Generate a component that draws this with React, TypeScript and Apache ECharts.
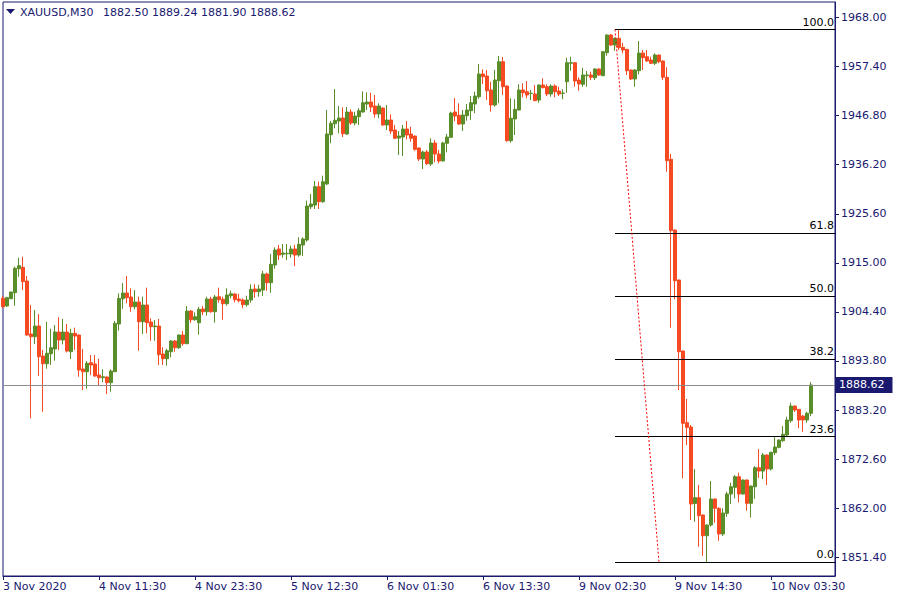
import React, { useEffect, useRef } from "react";
import * as echarts from "echarts";

const symbolName = "XAUUSD,M30";
const tickLabels = ["3 Nov 2020", "4 Nov 11:30", "4 Nov 23:30", "5 Nov 12:30", "6 Nov 01:30", "6 Nov 13:30", "9 Nov 02:30", "9 Nov 14:30", "10 Nov 03:30"];
const barsPerLabel = 24;
const slotCount = 209; // 203 bars plus the empty chart-shift area
const yTicks = [1851.4, 1862.0, 1872.6, 1883.2, 1893.8, 1904.4, 1915.0, 1925.6, 1936.2, 1946.8, 1957.4, 1968.0];
const yMin = 1847.36;
const yMax = 1971.34;
const fibLevels = [0, 23.6, 38.2, 50.0, 61.8, 100.0];
const fibHigh = 1965.40;
const fibLow = 1850.32;
const fibStartBar = 153;
const fibEndBar = 164;

const open = [
  1907.33, 1905.67, 1907.25, 1908.55, 1913.73, 1914.03, 1911.07, 1899.63, 1899.04, 1901.35,
  1894.87, 1893.21, 1895.37, 1896.39, 1900.06, 1898.33, 1900.06, 1895.80, 1899.78, 1899.41,
  1892.07, 1891.48, 1893.43, 1893.15, 1890.77, 1890.19, 1890.34, 1889.11, 1891.48, 1901.79,
  1907.25, 1908.48, 1907.62, 1905.52, 1906.54, 1902.28, 1905.89, 1902.22, 1901.20, 1901.35,
  1895.31, 1894.29, 1895.80, 1898.11, 1896.67, 1899.41, 1897.53, 1904.59, 1902.71, 1902.07,
  1905.03, 1904.44, 1907.19, 1904.44, 1907.68, 1907.12, 1906.17, 1907.90, 1908.27, 1907.19,
  1906.97, 1905.96, 1906.97, 1909.35, 1908.76, 1909.13, 1912.59, 1910.71, 1914.53, 1917.99,
  1916.84, 1916.97, 1916.90, 1917.99, 1916.69, 1918.85, 1919.93, 1927.12, 1927.49, 1931.45,
  1928.20, 1932.03, 1942.68, 1945.05, 1945.63, 1946.28, 1942.83, 1947.58, 1945.20, 1946.56,
  1947.58, 1949.31, 1949.74, 1948.87, 1947.15, 1948.44, 1944.77, 1945.85, 1943.69, 1941.96,
  1942.18, 1943.91, 1942.83, 1942.39, 1939.80, 1937.43, 1938.94, 1936.35, 1940.88, 1938.51,
  1937.00, 1940.82, 1942.11, 1947.58, 1946.86, 1944.99, 1946.78, 1947.86, 1949.31, 1950.88,
  1955.79, 1955.35, 1952.33, 1949.09, 1954.34, 1958.44, 1953.19, 1941.38, 1946.07, 1948.01,
  1952.33, 1951.96, 1951.57, 1951.47, 1950.17, 1953.41, 1953.04, 1951.47, 1953.19, 1952.11,
  1951.62, 1954.12, 1958.10, 1958.23, 1954.49, 1953.56, 1955.42, 1955.57, 1954.99, 1956.87,
  1955.42, 1960.39, 1964.21, 1962.05, 1963.50, 1961.55, 1961.12, 1956.65, 1954.71, 1956.50,
  1960.32, 1959.52, 1958.81, 1958.10, 1959.89, 1958.59, 1955.07, 1937.36, 1922.09, 1911.29,
  1895.95, 1880.47, 1879.54, 1863.01, 1864.27, 1860.53, 1856.06, 1858.37, 1863.99, 1861.98,
  1856.43, 1860.90, 1865.07, 1866.51, 1868.80, 1865.07, 1868.09, 1863.06, 1866.64, 1870.75,
  1870.03, 1873.49, 1870.47, 1873.99, 1875.15, 1876.58, 1877.81, 1880.90, 1884.07, 1883.36,
  1881.91, 1881.05, 1882.50
];
const high = [
  1907.84, 1907.68, 1908.75, 1914.16, 1916.11, 1916.32, 1912.15, 1905.89, 1904.81, 1903.95,
  1896.17, 1902.28, 1900.77, 1901.57, 1903.23, 1902.87, 1901.79, 1900.77, 1900.99, 1899.52,
  1896.39, 1893.79, 1895.09, 1895.09, 1894.29, 1892.00, 1890.45, 1892.00, 1902.43, 1908.42,
  1910.64, 1912.15, 1909.50, 1909.13, 1907.68, 1907.68, 1909.63, 1903.02, 1902.65, 1902.87,
  1896.75, 1896.45, 1898.33, 1898.33, 1899.52, 1900.27, 1905.67, 1904.81, 1904.31, 1905.52,
  1905.67, 1907.68, 1907.68, 1908.05, 1909.63, 1907.68, 1909.50, 1908.98, 1908.42, 1908.33,
  1907.33, 1907.90, 1910.36, 1910.36, 1910.27, 1913.30, 1912.87, 1916.90, 1918.35, 1918.85,
  1919.07, 1919.07, 1918.70, 1918.85, 1920.51, 1920.51, 1928.42, 1929.87, 1932.67, 1932.52,
  1933.82, 1948.01, 1945.63, 1952.55, 1948.87, 1948.59, 1948.66, 1948.16, 1947.64, 1948.38,
  1952.05, 1951.83, 1951.75, 1951.25, 1949.46, 1948.55, 1949.09, 1947.08, 1944.77, 1943.47,
  1944.77, 1945.63, 1944.40, 1942.50, 1939.95, 1939.22, 1939.37, 1941.90, 1941.53, 1939.37,
  1941.16, 1942.83, 1947.64, 1950.60, 1949.46, 1948.01, 1949.31, 1951.03, 1951.96, 1957.95,
  1956.80, 1956.65, 1954.12, 1956.65, 1959.67, 1959.46, 1953.30, 1950.54, 1950.32, 1953.56,
  1953.78, 1954.27, 1952.33, 1953.41, 1953.52, 1954.86, 1953.56, 1953.56, 1953.56, 1953.04,
  1952.48, 1959.31, 1959.52, 1958.31, 1955.07, 1957.15, 1956.43, 1956.28, 1956.97, 1956.97,
  1960.75, 1964.36, 1964.43, 1963.71, 1965.40, 1962.55, 1961.19, 1956.76, 1956.87, 1962.91,
  1960.97, 1960.97, 1959.52, 1960.26, 1960.00, 1958.70, 1957.23, 1938.51, 1922.20, 1911.40,
  1896.06, 1885.59, 1879.97, 1870.47, 1867.01, 1860.64, 1858.48, 1867.87, 1864.09, 1862.19,
  1861.98, 1865.56, 1867.51, 1869.17, 1869.67, 1868.20, 1868.20, 1866.90, 1871.11, 1874.79,
  1873.92, 1873.60, 1874.20, 1877.59, 1876.84, 1879.75, 1881.76, 1884.79, 1884.18, 1883.43,
  1882.13, 1882.84, 1889.24
];
const low = [
  1905.24, 1905.52, 1907.19, 1905.74, 1912.00, 1909.13, 1899.30, 1881.42, 1897.47, 1890.55,
  1882.84, 1892.13, 1892.93, 1893.86, 1896.17, 1897.40, 1895.67, 1894.23, 1896.17, 1890.40,
  1887.53, 1887.81, 1890.77, 1890.40, 1888.61, 1889.19, 1886.67, 1887.16, 1891.42, 1900.34,
  1905.09, 1906.26, 1904.44, 1904.96, 1896.02, 1899.63, 1899.78, 1898.18, 1898.18, 1892.93,
  1892.93, 1892.78, 1894.59, 1895.80, 1896.39, 1897.10, 1897.47, 1902.00, 1902.50, 1899.48,
  1903.73, 1903.58, 1904.23, 1902.07, 1906.39, 1902.71, 1905.74, 1907.33, 1906.47, 1906.47,
  1905.18, 1905.52, 1906.39, 1907.47, 1907.68, 1907.83, 1908.98, 1908.55, 1913.73, 1915.61,
  1916.11, 1915.61, 1916.11, 1914.31, 1916.32, 1916.47, 1919.56, 1926.63, 1926.63, 1926.63,
  1927.99, 1931.81, 1940.82, 1944.06, 1942.98, 1942.18, 1942.61, 1944.77, 1944.70, 1944.77,
  1947.43, 1948.01, 1947.58, 1946.35, 1946.22, 1944.62, 1943.69, 1942.83, 1941.75, 1938.29,
  1938.07, 1941.68, 1941.16, 1939.22, 1937.00, 1935.27, 1936.13, 1935.91, 1936.71, 1936.50,
  1936.93, 1938.87, 1941.96, 1945.57, 1944.77, 1943.47, 1945.70, 1945.85, 1947.30, 1950.45,
  1953.63, 1950.17, 1947.64, 1948.72, 1949.46, 1951.25, 1941.16, 1940.95, 1942.61, 1947.90,
  1950.75, 1950.54, 1950.17, 1949.95, 1949.59, 1952.70, 1951.03, 1950.88, 1950.75, 1951.03,
  1950.32, 1951.75, 1956.50, 1953.04, 1952.18, 1953.04, 1953.04, 1954.49, 1954.49, 1955.35,
  1955.35, 1959.74, 1961.83, 1960.82, 1960.97, 1960.26, 1955.57, 1954.49, 1953.04, 1955.72,
  1956.65, 1958.44, 1957.95, 1957.73, 1958.10, 1954.49, 1934.68, 1900.99, 1907.12, 1887.53,
  1868.46, 1875.65, 1859.45, 1859.08, 1853.68, 1851.74, 1850.32, 1858.04, 1858.87, 1854.98,
  1856.00, 1860.16, 1862.91, 1864.14, 1863.27, 1864.96, 1861.46, 1859.99, 1864.03, 1868.52,
  1868.31, 1867.01, 1870.14, 1873.49, 1874.94, 1876.36, 1877.59, 1880.47, 1882.78, 1879.26,
  1878.52, 1880.47, 1881.90
];
const close = [
  1905.52, 1907.47, 1908.70, 1913.82, 1914.38, 1910.92, 1899.41, 1899.04, 1901.35, 1894.72,
  1893.21, 1895.46, 1896.67, 1900.06, 1898.33, 1900.06, 1895.95, 1899.78, 1899.19, 1891.85,
  1891.48, 1893.30, 1892.93, 1890.55, 1890.19, 1890.40, 1889.11, 1891.63, 1901.94, 1907.33,
  1908.48, 1907.47, 1905.52, 1906.54, 1902.28, 1905.89, 1902.07, 1901.20, 1901.35, 1895.16,
  1894.29, 1896.02, 1898.11, 1896.67, 1899.41, 1897.53, 1904.59, 1902.71, 1903.36, 1904.96,
  1904.44, 1907.19, 1904.44, 1907.62, 1907.04, 1906.17, 1908.05, 1908.33, 1907.04, 1906.82,
  1905.96, 1906.97, 1909.28, 1908.76, 1909.35, 1912.59, 1910.71, 1914.68, 1917.77, 1916.69,
  1917.12, 1917.06, 1917.99, 1916.69, 1918.99, 1920.15, 1927.27, 1927.71, 1931.45, 1928.20,
  1932.52, 1942.83, 1945.14, 1945.79, 1946.28, 1942.89, 1947.58, 1945.20, 1946.71, 1947.86,
  1949.59, 1949.74, 1948.66, 1947.15, 1948.87, 1944.77, 1945.85, 1943.47, 1941.90, 1942.39,
  1943.91, 1942.61, 1941.90, 1939.52, 1937.43, 1938.94, 1936.41, 1940.88, 1938.51, 1937.00,
  1940.88, 1942.18, 1947.36, 1946.71, 1944.99, 1946.93, 1948.01, 1949.59, 1951.03, 1955.79,
  1955.20, 1952.18, 1949.09, 1954.49, 1958.44, 1953.04, 1941.38, 1946.22, 1948.16, 1952.33,
  1951.75, 1951.25, 1951.62, 1950.02, 1953.41, 1952.83, 1951.47, 1953.19, 1951.96, 1951.47,
  1951.68, 1958.23, 1958.23, 1954.27, 1953.63, 1955.57, 1955.57, 1955.07, 1956.87, 1955.57,
  1960.60, 1964.21, 1962.05, 1963.50, 1961.47, 1960.97, 1956.50, 1954.71, 1956.65, 1960.32,
  1959.31, 1958.59, 1958.10, 1959.89, 1958.44, 1955.07, 1937.06, 1921.94, 1911.14, 1895.80,
  1880.34, 1879.47, 1862.91, 1864.27, 1860.38, 1856.06, 1858.37, 1863.99, 1861.98, 1856.43,
  1860.96, 1865.07, 1866.64, 1868.80, 1865.07, 1868.09, 1863.06, 1866.79, 1870.75, 1870.03,
  1873.49, 1870.47, 1874.07, 1875.22, 1876.73, 1877.98, 1881.05, 1884.07, 1883.21, 1881.05,
  1881.05, 1882.50, 1888.62
];

const NAVY = "#191970";
const UP = "#5a8e2a";
const DOWN = "#f54a22";
const FONT = "DejaVu Sans";

export default function App() {
  const ref = useRef<HTMLDivElement>(null);

  useEffect(() => {
    if (!ref.current) return;
    const chart = echarts.init(ref.current, undefined, { renderer: "svg" });

    const categories = Array.from({ length: slotCount }, (_, i) => String(i));
    const showTick = (i: number) => i % barsPerLabel === 0 && i / barsPerLabel < tickLabels.length;
    const candles = open.map((o, i) => [o, close[i], low[i], high[i]]);
    const last = open.length - 1;
    const lastClose = close[last];
    const headerValues = [open[last], high[last], low[last], close[last]].map((v) => v.toFixed(2)).join(" ");

    const fibLines = fibLevels.map((lvl) => {
      const price = fibLow + ((fibHigh - fibLow) * lvl) / 100;
      return [
        {
          coord: [fibStartBar, price],
          lineStyle: { color: "#000000", width: 1, type: "solid" },
          label: {
            show: true,
            position: "insideEndTop",
            formatter: lvl.toFixed(1),
            color: "#000000",
            fontSize: 11,
            fontFamily: FONT,
            distance: [1, 2],
          },
        },
        { coord: [slotCount - 1, price] },
      ];
    });

    const trendLine = [
      {
        coord: [fibStartBar, fibHigh],
        lineStyle: { color: "#ff0000", width: 1, type: [2, 2] },
        label: { show: false },
      },
      { coord: [fibEndBar, fibLow] },
    ];

    const option: any = {
      animation: false,
      backgroundColor: "#ffffff",
      grid: {
        left: 2,
        top: 2,
        right: 65,
        bottom: 24,
        show: true,
        borderColor: NAVY,
        borderWidth: 1,
        backgroundColor: "transparent",
      },
      xAxis: {
        type: "category",
        data: categories,
        boundaryGap: false,
        axisLine: { show: true, lineStyle: { color: NAVY, width: 1 } },
        axisTick: {
          show: true,
          interval: (i: number) => showTick(i),
          length: 4,
          inside: false,
          lineStyle: { color: NAVY, width: 1 },
        },
        axisLabel: {
          show: true,
          interval: (i: number) => showTick(i),
          formatter: (v: string) => {
            const i = Number(v);
            return showTick(i) ? tickLabels[i / barsPerLabel] : "";
          },
          align: "left",
          margin: 5,
          color: NAVY,
          fontSize: 11,
          fontFamily: FONT,
        },
        splitLine: { show: false },
      },
      yAxis: {
        type: "value",
        position: "right",
        min: yMin,
        max: yMax,
        axisLine: { show: true, lineStyle: { color: NAVY, width: 1 } },
        axisTick: { show: true, length: 4, customValues: yTicks, lineStyle: { color: NAVY, width: 1 } },
        axisLabel: {
          show: true,
          customValues: yTicks,
          formatter: (v: number) => v.toFixed(2),
          margin: 6,
          color: NAVY,
          fontSize: 11,
          fontFamily: FONT,
        },
        splitLine: { show: false },
      },
      graphic: [
        {
          type: "polygon",
          shape: { points: [[6, 9], [15, 9], [10.5, 14]] },
          style: { fill: NAVY },
          silent: true,
        },
        {
          type: "text",
          x: 20,
          y: 12,
          style: { text: symbolName, font: `11px "${FONT}"`, fill: NAVY, verticalAlign: "middle" },
          silent: true,
        },
        {
          type: "text",
          x: 103,
          y: 12,
          style: { text: headerValues, font: `11px "${FONT}"`, fill: NAVY, verticalAlign: "middle" },
          silent: true,
        },
      ],
      series: [
        {
          type: "candlestick",
          data: candles,
          barWidth: 3,
          itemStyle: {
            color: UP,
            color0: DOWN,
            borderColor: UP,
            borderColor0: DOWN,
            borderWidth: 1,
          },
          emphasis: { disabled: true },
          markLine: {
            silent: true,
            symbol: ["none", "none"],
            animation: false,
            emphasis: { disabled: true },
            data: [
              {
                yAxis: lastClose,
                lineStyle: { color: "#8c8c8c", width: 1, type: "solid" },
                label: {
                  show: true,
                  position: "end",
                  formatter: lastClose.toFixed(2),
                  backgroundColor: NAVY,
                  color: "#ffffff",
                  fontSize: 11,
                  fontFamily: FONT,
                  padding: [3, 8, 2, 4],
                  distance: 0,
                },
              },
              ...fibLines,
              trendLine,
            ],
          },
        },
      ],
    };

    chart.setOption(option);
    return () => chart.dispose();
  }, []);

  return <div ref={ref} style={{ position: "fixed", left: 0, top: 0, width: 900, height: 600 }} />;
}
